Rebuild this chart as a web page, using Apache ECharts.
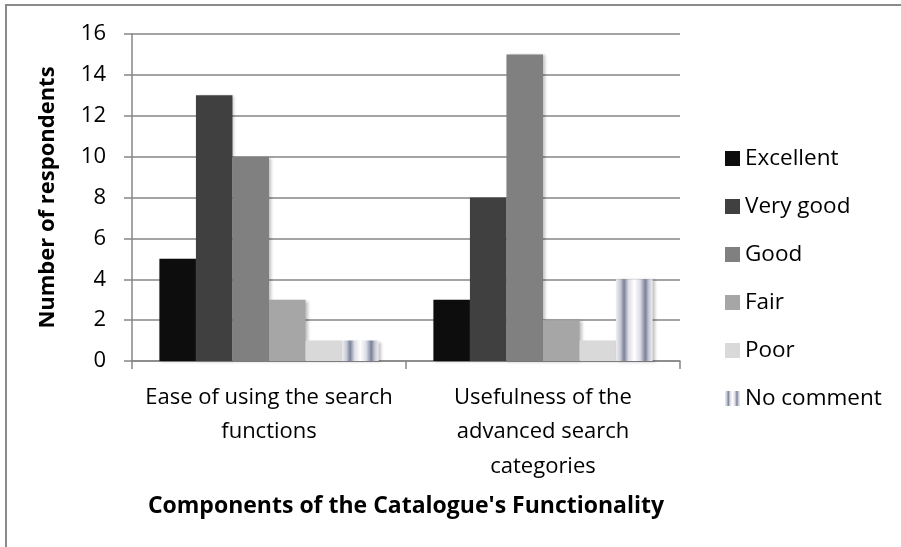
<!DOCTYPE html>
<html>
<head>
<meta charset="utf-8">
<script src="https://cdn.jsdelivr.net/npm/echarts@6/dist/echarts.min.js"></script>
<style>
html,body{margin:0;padding:0;background:#fff;}
#chart{width:901px;height:547px;}
</style>
</head>
<body>
<div id="chart"></div>
<script>
const categories = ["Ease of using the search\nfunctions", "Usefulness of the\nadvanced search\ncategories"];
const seriesNames = ["Excellent", "Very good", "Good", "Fair", "Poor", "No comment"];
const excellent = [5, 3];
const veryGood = [13, 8];
const good = [10, 15];
const fair = [3, 2];
const poor = [1, 1];
const noComment = [1, 4];
const yTicks = [0, 2, 4, 6, 8, 10, 12, 14, 16];

const FONT = "Open Sans";
const stripe = {
  type: 'linear', x: 0, y: 0, x2: 1, y2: 0,
  colorStops: [
    {offset: 0, color: '#eeeef2'},
    {offset: 0.12, color: '#c8cad6'},
    {offset: 0.22, color: '#7b8199'},
    {offset: 0.34, color: '#dcdde5'},
    {offset: 0.5, color: '#ffffff'},
    {offset: 0.66, color: '#dcdde5'},
    {offset: 0.8, color: '#7b8199'},
    {offset: 0.9, color: '#c8cad6'},
    {offset: 1, color: '#eeeef2'}
  ]
};
const colors = ['#0d0d0d', '#404040', '#808080', '#a6a6a6', '#d9d9d9', stripe];
const values = [excellent, veryGood, good, fair, poor, noComment];

const chart = echarts.init(document.getElementById('chart'), null, {renderer: 'canvas'});
chart.setOption({
  animation: false,
  backgroundColor: '#fff',
  graphic: [{
    type: 'rect', shape: {x: 6, y: 5, width: 1000, height: 1000},
    style: {fill: 'none', stroke: '#8a8a8a', lineWidth: 2}, silent: true, z: -1
  }],
  grid: {left: 132, right: 221, top: 34, bottom: 186, containLabel: false},
  legend: {
    orient: 'vertical', left: 720, top: 142, itemGap: 25,
    itemWidth: 15, itemHeight: 15, icon: 'rect',
    textStyle: {fontFamily: FONT, fontSize: 22.5, lineHeight: 22, color: '#000', padding: [0, 0, 0, 0]},
    data: seriesNames
  },
  xAxis: {
    type: 'category', data: categories,
    name: "Components of the Catalogue's Functionality",
    nameLocation: 'middle', nameGap: 134,
    nameTextStyle: {fontFamily: FONT, fontSize: 23, fontWeight: 'bold', color: '#000'},
    axisLine: {lineStyle: {color: '#868686', width: 1.5}},
    axisTick: {show: true, length: 8, lineStyle: {color: '#868686', width: 1.5}},
    axisLabel: {fontFamily: FONT, fontSize: 22, color: '#000', lineHeight: 34.5, margin: 19, interval: 0}
  },
  yAxis: {
    type: 'value', min: 0, max: 16, interval: 2,
    name: 'Number of respondents', nameLocation: 'middle', nameGap: 73,
    nameTextStyle: {fontFamily: FONT, fontSize: 22, fontWeight: 'bold', color: '#000'},
    axisLine: {show: true, lineStyle: {color: '#868686', width: 1.5}},
    axisTick: {show: true, length: 8, lineStyle: {color: '#868686', width: 1.5}},
    splitLine: {lineStyle: {color: '#868686', width: 1.5}},
    axisLabel: {fontFamily: FONT, fontSize: 22, color: '#000', margin: 26,
      formatter: v => yTicks.indexOf(v) >= 0 ? String(v) : ''}
  },
  series: seriesNames.map((n, i) => ({
    name: n, type: 'bar', data: values[i],
    barGap: '0%', barCategoryGap: '20%',
    itemStyle: {color: colors[i], shadowColor: 'rgba(0,0,0,0.25)', shadowBlur: 3, shadowOffsetX: 2, shadowOffsetY: 1}
  }))
});
</script>
</body>
</html>
